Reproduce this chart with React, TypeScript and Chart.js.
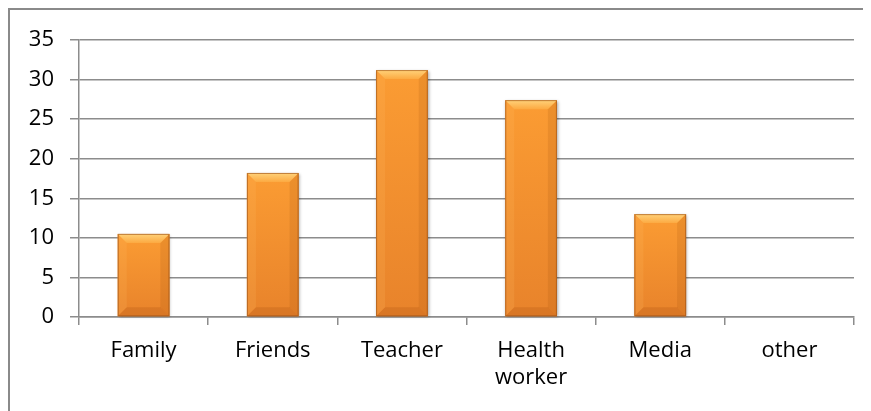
import React, { useEffect, useRef } from "react";
import { Chart, registerables } from "chart.js";

Chart.register(...registerables);

const categories: (string | string[])[] = ["Family", "Friends", "Teacher", ["Health", "worker"], "Media", "other"];
const values: number[] = [10.5, 18.2, 31.2, 27.4, 13.0, 0];
const yTicks = { min: 0, max: 35, step: 5 };

const GRID = "#8c8c8c";

const bevelPlugin = {
  id: "bevel",
  afterDatasetsDraw(chart: any) {
    const ctx = chart.ctx;
    const meta = chart.getDatasetMeta(0);
    ctx.save();
    meta.data.forEach((el: any) => {
      const { x, y, base, width } = el.getProps(["x", "y", "base", "width"], true);
      const l = x - width / 2;
      const r = x + width / 2;
      const t = Math.min(y, base);
      const b = Math.max(y, base);
      if (b - t < 1) return;
      const bv = Math.min(9, (b - t) / 2);
      const poly = (pts: number[][], fill: any) => {
        ctx.beginPath();
        ctx.moveTo(pts[0][0], pts[0][1]);
        for (let i = 1; i < pts.length; i++) ctx.lineTo(pts[i][0], pts[i][1]);
        ctx.closePath();
        ctx.fillStyle = fill;
        ctx.fill();
      };
      ctx.save();
      ctx.shadowColor = "rgba(0,0,0,0.35)";
      ctx.shadowBlur = 3;
      ctx.shadowOffsetX = 1;
      ctx.shadowOffsetY = 1;
      const g = ctx.createLinearGradient(0, t, 0, b);
      g.addColorStop(0, "#FB9C33");
      g.addColorStop(1, "#E8832B");
      ctx.fillStyle = g;
      ctx.fillRect(l, t, width, b - t);
      ctx.restore();
      const gt = ctx.createLinearGradient(0, t, 0, t + bv);
      gt.addColorStop(0, "#FFD27A");
      gt.addColorStop(1, "#FCAA42");
      poly([[l, t], [r, t], [r - bv, t + bv], [l + bv, t + bv]], gt);
      poly([[l, t], [l + bv, t + bv], [l + bv, b - bv], [l, b]], "rgba(255,190,100,0.18)");
      poly([[r, t], [r - bv, t + bv], [r - bv, b - bv], [r, b]], "rgba(150,70,10,0.14)");
      poly([[l, b], [r, b], [r - bv, b - bv], [l + bv, b - bv]], "rgba(170,80,15,0.25)");
      ctx.strokeStyle = "rgba(160,85,25,0.65)";
      ctx.lineWidth = 1;
      ctx.strokeRect(l + 0.5, t + 0.5, width - 1, b - t - 1);
    });
    ctx.restore();
  },
};

export default function App() {
  const ref = useRef<HTMLCanvasElement | null>(null);
  useEffect(() => {
    if (!ref.current) return;
    const chart = new Chart(ref.current, {
      type: "bar",
      data: {
        labels: categories as any,
        datasets: [
          {
            data: values,
            backgroundColor: "#F7952F",
            borderWidth: 0,
            barPercentage: 0.4,
            categoryPercentage: 1,
          },
        ],
      },
      options: {
        responsive: false,
        animation: false,
        layout: { padding: { left: 0, right: 17, top: 30, bottom: 0 } },
        plugins: { legend: { display: false }, tooltip: { enabled: false } },
        scales: {
          x: {
            grid: { drawOnChartArea: false, drawTicks: true, tickLength: 8, color: GRID, lineWidth: 1.5 },
            border: { display: true, color: GRID, width: 1.5 },
            ticks: {
              color: "#000",
              padding: 13,
              font: { family: "'Open Sans'", size: 22, lineHeight: 1.2 },
              maxRotation: 0,
              autoSkip: false,
            },
            afterFit: (s: any) => {
              s.height = 94;
            },
          },
          y: {
            min: yTicks.min,
            max: yTicks.max,
            ticks: {
              stepSize: yTicks.step,
              color: "#000",
              padding: 16,
              font: { family: "'Open Sans'", size: 22 },
            },
            grid: { color: GRID, lineWidth: 1.5, tickLength: 9 },
            border: { display: true, color: GRID, width: 1.5 },
            afterFit: (s: any) => {
              s.width = 69;
            },
          },
        },
      },
      plugins: [bevelPlugin],
    });
    return () => chart.destroy();
  }, []);
  return (
    <div
      style={{
        width: 861,
        height: 401,
        borderTop: "2px solid #8a8a8a",
        borderLeft: "2px solid #8a8a8a",
        background: "#fff",
      }}
    >
      <canvas ref={ref} width={861} height={401} style={{ display: "block" }} />
    </div>
  );
}
